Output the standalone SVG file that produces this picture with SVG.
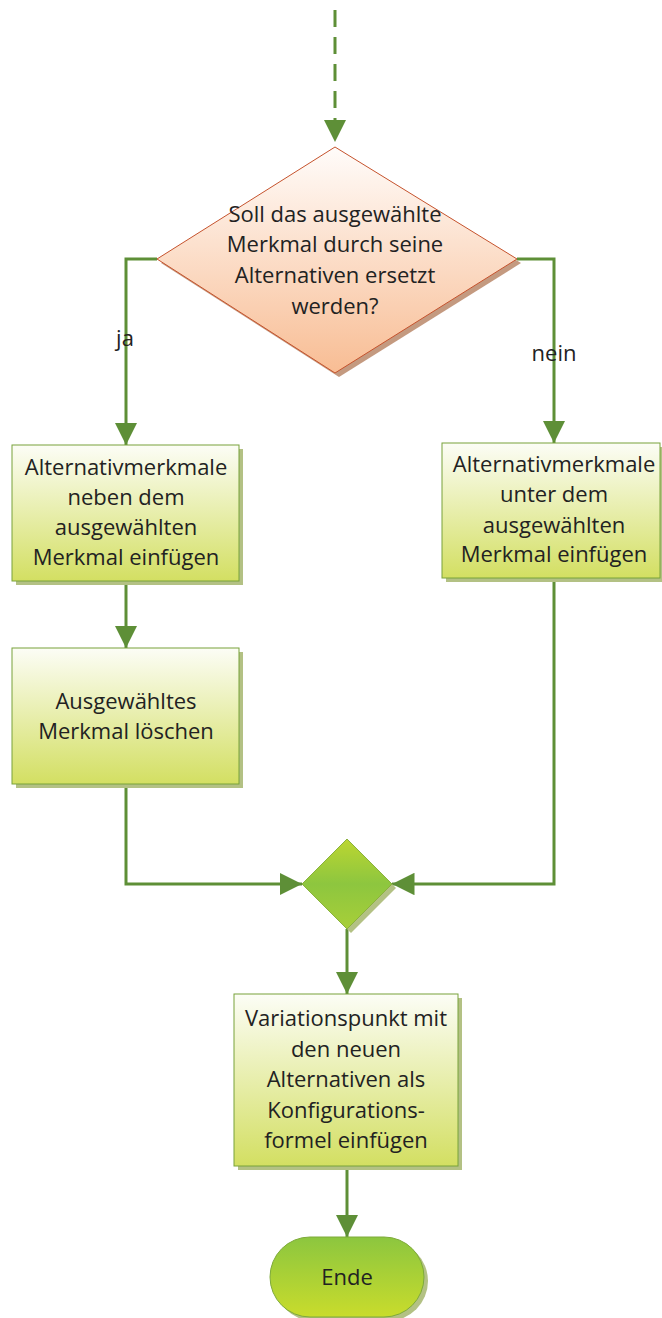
<svg xmlns="http://www.w3.org/2000/svg" width="662" height="1318" viewBox="0 0 662 1318">
<defs>
<linearGradient id="gBox" x1="0" y1="0" x2="0" y2="1"><stop offset="0" stop-color="#fcfdf6"/><stop offset="1" stop-color="#d3df62"/></linearGradient>
<linearGradient id="gDia" x1="0" y1="0" x2="0" y2="1"><stop offset="0" stop-color="#fffcfa"/><stop offset="1" stop-color="#f8bd94"/></linearGradient>
<linearGradient id="gGreen" x1="0" y1="0" x2="0" y2="1"><stop offset="0" stop-color="#bcd631"/><stop offset="0.5" stop-color="#8dc63f"/><stop offset="1" stop-color="#a8cf38"/></linearGradient>
<linearGradient id="gEnde" x1="0" y1="0" x2="0" y2="1"><stop offset="0" stop-color="#8cc63f"/><stop offset="1" stop-color="#c9dc2c"/></linearGradient>
<marker id="arr" viewBox="0 0 10 10" refX="10" refY="5" markerWidth="7.5" markerHeight="7.5" markerUnits="strokeWidth" orient="auto"><path d="M0,0 L10,5 L0,10 z" fill="#5e8f37"/></marker>
</defs>
<style>
.c{fill:none;stroke:#5e8f37;stroke-width:3}
.box{fill:url(#gBox);stroke:#78a23b;stroke-width:1}
.sh{fill:#b3c184}
.t{font-family:"Open Sans","Liberation Sans",sans-serif;font-size:22px;fill:#222;text-anchor:middle}
</style>
<g id="connectors">
<path class="c" d="M335,10 V142" stroke-dasharray="17,10" marker-end="url(#arr)"/>
<path class="c" d="M157,259 H126 V445" marker-end="url(#arr)"/>
<path class="c" d="M517,259 H554 V443" marker-end="url(#arr)"/>
<path class="c" d="M126,581 V648" marker-end="url(#arr)"/>
<path class="c" d="M126,784 V884 H302" marker-end="url(#arr)"/>
<path class="c" d="M554,578 V884 H392" marker-end="url(#arr)"/>
<path class="c" d="M347,929 V994" marker-end="url(#arr)"/>
<path class="c" d="M347,1166 V1237" marker-end="url(#arr)"/>
<text class="t" x="125" y="346">ja</text>
<text class="t" x="554" y="361">nein</text>
</g>
<g id="decision">
<polygon points="339,151 521,263 339,377 161,263" fill="#c49a80"/>
<polygon points="335,147 517,259 335,373 157,259" fill="url(#gDia)" stroke="#c5522c" stroke-width="1"/>
<text class="t" x="335" y="222">Soll das ausgewählte</text>
<text class="t" x="335" y="252">Merkmal durch seine</text>
<text class="t" x="335" y="283">Alternativen ersetzt</text>
<text class="t" x="335" y="314">werden?</text>
</g>
<g id="box-neben">
<rect class="sh" x="16" y="449" width="227" height="136"/>
<rect class="box" x="12" y="445" width="227" height="136"/>
<text class="t" x="126" y="475">Alternativmerkmale</text>
<text class="t" x="126" y="505">neben dem</text>
<text class="t" x="126" y="535">ausgewählten</text>
<text class="t" x="126" y="565">Merkmal einfügen</text>
</g>
<g id="box-loeschen">
<rect class="sh" x="16" y="652" width="227" height="136"/>
<rect class="box" x="12" y="648" width="227" height="136"/>
<text class="t" x="126" y="709">Ausgewähltes</text>
<text class="t" x="126" y="739">Merkmal löschen</text>
</g>
<g id="box-unter">
<rect class="sh" x="446" y="447" width="220" height="135"/>
<rect class="box" x="442" y="443" width="218" height="135"/>
<text class="t" x="554" y="472">Alternativmerkmale</text>
<text class="t" x="554" y="502">unter dem</text>
<text class="t" x="554" y="533">ausgewählten</text>
<text class="t" x="554" y="562">Merkmal einfügen</text>
</g>
<g id="merge">
<polygon points="351,843 396,888 351,933 306,888" fill="#b3c184"/>
<polygon points="347,839 392,884 347,929 302,884" fill="url(#gGreen)" stroke="#8ab13e" stroke-width="1"/>
</g>
<g id="box-variationspunkt">
<rect class="sh" x="238" y="998" width="224" height="172"/>
<rect class="box" x="234" y="994" width="224" height="172"/>
<text class="t" x="346" y="1026">Variationspunkt mit</text>
<text class="t" x="346" y="1057">den neuen</text>
<text class="t" x="346" y="1087">Alternativen als</text>
<text class="t" x="346" y="1118">Konfigurations-</text>
<text class="t" x="346" y="1148">formel einfügen</text>
</g>
<g id="ende">
<rect x="274" y="1241" width="154" height="80" rx="40" fill="#b3c184"/>
<rect x="270" y="1237" width="154" height="80" rx="40" fill="url(#gEnde)" stroke="#7eaa3a" stroke-width="1"/>
<text class="t" x="347" y="1285">Ende</text>
</g>
</svg>
